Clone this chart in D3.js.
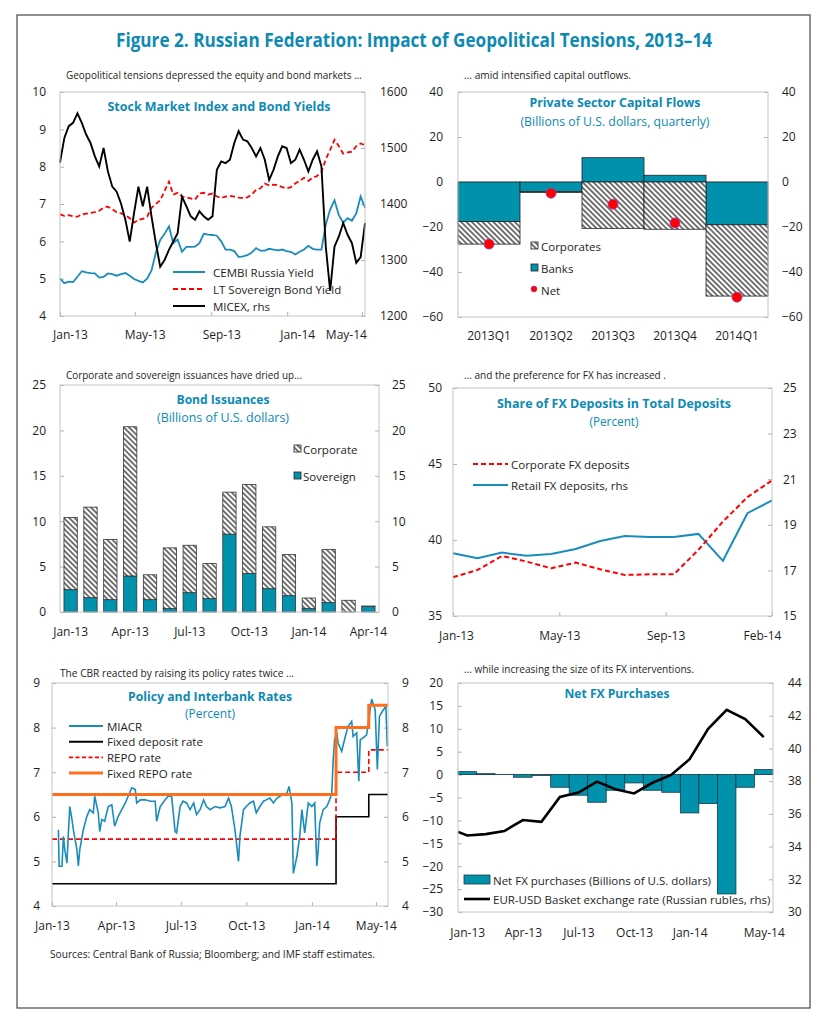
<!DOCTYPE html>
<html><head><meta charset="utf-8">
<script src="https://cdn.jsdelivr.net/npm/d3@7"></script>
<style>body{margin:0;background:#fff}</style>
</head><body><svg id="chart"></svg>
<script>
// ---------------- DATA ----------------
const mainTitle = "Figure 2. Russian Federation: Impact of Geopolitical Tensions, 2013–14";
const sourcesText = "Sources: Central Bank of Russia; Bloomberg; and  IMF staff estimates.";

// Panel 1: weekly from 1 Jan 2013
const p1Start = "2013-01-01";
const micex = [1474,1518,1539,1545,1562,1545,1524,1509,1485,1467,
 1500,1458,1431,1422,1401,1372,1333,1384,1431,1396,
 1431,1378,1330,1288,1300,1318,1333,1348,1413,1396,
 1378,1372,1387,1378,1372,1378,1461,1476,1473,1479,
 1509,1530,1515,1512,1500,1485,1500,1479,1443,1461,
 1485,1503,1500,1473,1479,1497,1479,1458,1479,1494,
 1467,1324,1245,1324,1342,1366,1345,1330,1295,1305,1366];
const cembi = [5.00,4.88,4.92,4.91,5.05,5.20,5.17,5.15,5.14,5.03,
 5.05,5.14,5.12,5.08,5.12,5.15,5.08,4.99,4.94,4.90,
 5.00,5.22,5.70,6.04,6.20,6.40,5.95,6.05,5.72,5.85,
 5.85,5.86,5.95,6.20,6.18,6.17,6.15,6.00,5.78,5.78,
 5.74,5.58,5.60,5.63,5.70,5.82,5.75,5.75,5.80,5.78,
 5.76,5.78,5.74,5.72,5.65,5.72,5.78,5.88,5.80,5.78,
 5.78,6.45,6.85,7.10,6.70,6.50,6.62,6.55,6.75,7.20,6.90];
const ltSov = [6.72,6.68,6.70,6.67,6.66,6.72,6.74,6.76,6.78,6.82,
 6.90,6.93,6.86,6.78,6.75,6.70,6.62,6.50,6.58,6.60,
 6.66,6.90,7.00,7.10,7.35,7.60,7.25,7.30,7.20,7.18,
 7.15,7.12,7.28,7.30,7.25,7.28,7.20,7.16,7.20,7.22,
 7.20,7.17,7.16,7.18,7.25,7.38,7.42,7.55,7.50,7.52,
 7.50,7.45,7.42,7.45,7.55,7.62,7.70,7.62,7.70,7.75,
 7.85,8.20,8.45,8.72,8.55,8.35,8.38,8.40,8.55,8.62,8.58];
const p1Ticks = ["2013-01-01","2013-05-01","2013-09-01","2014-01-01","2014-05-01"];
const p1Left = [4,5,6,7,8,9,10];
const p1Right = [1200,1300,1400,1500,1600];
const p1Legend = ["CEMBI Russia Yield","LT Sovereign Bond Yield","MICEX, rhs"];

// Panel 2
const quarters = ["2013Q1","2013Q2","2013Q3","2013Q4","2014Q1"];
const banks = [-17.6,-4.2,10.8,3.0,-19.0];
const corporates = [-10.0,-0.5,-20.6,-21.0,-31.7];
const netFlows = [-27.6,-5.0,-9.9,-18.2,-51.2];
const p2Ticks = [-60,-40,-20,0,20,40];

// Panel 3
const issueMonths = ["Jan-13","Feb-13","Mar-13","Apr-13","May-13","Jun-13","Jul-13","Aug-13","Sep-13","Oct-13","Nov-13","Dec-13","Jan-14","Feb-14","Mar-14","Apr-14"];
const sovereign = [2.46,1.58,1.36,3.97,1.36,0.37,2.13,1.47,8.57,4.23,2.57,1.80,0.37,1.03,0.0,0.60];
const corporate = [7.94,9.97,6.64,16.43,2.74,6.69,5.22,3.86,4.63,9.81,6.81,4.52,1.17,5.87,1.29,0.06];
const p3Labels = ["Jan-13","Apr-13","Jul-13","Oct-13","Jan-14","Apr-14"];
const p3Ticks = [0,5,10,15,20,25];

// Panel 4
const depMonths = ["Jan-13","Feb-13","Mar-13","Apr-13","May-13","Jun-13","Jul-13","Aug-13","Sep-13","Oct-13","Nov-13","Dec-13","Jan-14","Feb-14"];
const corpFX = [37.55,38.03,38.95,38.58,38.14,38.51,38.07,37.70,37.74,37.74,39.35,41.21,42.82,43.92];
const retailFX = [17.75,17.53,17.78,17.64,17.72,17.94,18.29,18.51,18.46,18.46,18.60,17.42,19.51,20.07];
const p4Labels = ["Jan-13","May-13","Sep-13","Feb-14"];
const p4Left = [35,40,45,50];
const p4Right = [15,17,19,21,23,25];

// Panel 5: [days since 1 Jan 2013, value]
const miacr = [[9,5.71],[10,4.89],[14,4.89],[16,5.56],[18,5.26],[21,4.96],[23,5.64],[25,6.23],[28,5.94],[30,5.71],
 [35,5.26],[37,4.90],[39,5.26],[44,5.71],[49,6.01],[53,6.16],[58,6.09],[60,6.46],[65,6.09],[67,5.67],
 [70,5.94],[74,5.90],[79,6.23],[84,6.27],[88,5.79],[93,6.01],[98,6.16],[103,6.31],[107,6.46],[112,6.65],
 [117,6.61],[119,6.31],[124,6.38],[131,6.38],[138,6.35],[145,6.35],[147,5.90],[152,6.23],[159,6.38],[163,6.46],
 [168,6.46],[173,5.67],[175,5.64],[180,6.23],[184,6.35],[189,6.31],[194,6.16],[199,6.31],[203,6.05],[208,6.16],
 [213,6.38],[217,6.23],[222,6.16],[229,6.23],[236,6.20],[243,6.23],[248,6.42],[252,6.23],[257,5.71],[262,5.00],
 [264,5.56],[269,6.16],[273,6.23],[278,6.31],[283,6.35],[287,6.09],[292,6.23],[297,6.35],[301,6.38],[306,6.42],
 [311,6.31],[316,6.42],[320,6.46],[325,6.50],[330,6.53],[333,6.68],[337,6.31],[339,4.73],[344,5.11],[348,5.56],
 [351,6.16],[355,5.64],[360,6.31],[365,6.23],[369,6.31],[372,4.90],[374,5.26],[376,5.86],[381,6.16],[386,6.23],
 [390,6.38],[393,6.53],[395,7.28],[397,7.73],[400,7.88],[402,7.65],[407,7.47],[412,7.80],[416,8.03],[421,8.14],
 [423,7.80],[428,7.88],[431,6.80],[433,7.73],[437,7.77],[442,7.84],[445,8.18],[449,8.64],[454,8.40],[457,7.06],
 [460,8.25],[464,8.36],[469,8.48],[471,7.58]];
const fixedRepo = [[0,6.5],[399,8.0],[445,8.5],[472,8.5]];
const repoRate = [[0,5.5],[399,7.0],[445,7.5],[472,7.5]];
const depositRate = [[0,4.5],[399,6.0],[445,6.5],[472,6.5]];
const p5TickDates = ["2013-01-01","2013-04-01","2013-07-01","2013-10-01","2014-01-01","2014-04-01"];
const p5TickLabels = ["Jan-13","Apr-13","Jul-13","Oct-13","Jan-14","May-14"];
const p5Ticks = [4,5,6,7,8,9];
const p5Legend = ["MIACR","Fixed deposit rate","REPO rate","Fixed REPO rate"];

// Panel 6
const fxMonths = ["Jan-13","Feb-13","Mar-13","Apr-13","May-13","Jun-13","Jul-13","Aug-13","Sep-13","Oct-13","Nov-13","Dec-13","Jan-14","Feb-14","Mar-14","Apr-14","May-14"];
const netFX = [0.65,0.2,0.05,-0.58,-0.2,-2.77,-4.5,-6.04,-3.42,-1.82,-3.42,-3.86,-8.37,-6.33,-26.06,-2.77,1.09];
const basketStart = 34.90;
const basket = [34.68,34.76,34.95,35.62,35.51,37.03,37.30,37.97,37.50,37.25,37.90,38.38,39.34,41.20,42.36,41.79,40.69];
const p6Labels = ["Jan-13","Apr-13","Jul-13","Oct-13","Jan-14","May-14"];
const p6Left = [-30,-25,-20,-15,-10,-5,0,5,10,15,20];
const p6Right = [30,32,34,36,38,40,42,44];

// ---------------- DRAW ----------------
const W = 828, H = 1024;
const FONT = '"Open Sans","Noto Sans",sans-serif';
const TITLE = "#0d8ab3", BAR = "#0092ad", LTEAL = "#1a8cba", RED = "#ff0000", ORANGE = "#ff6e1c", TXT = "#1e1e1e";
const intFmt = d3.format("d");
const svg = d3.select("#chart").attr("width", W).attr("height", H);
svg.append("rect").attr("width", W).attr("height", H).attr("fill", "#fff");
const defs = svg.append("defs");
function hatch(id, size) {
  const p = defs.append("pattern").attr("id", id).attr("patternUnits", "userSpaceOnUse")
    .attr("width", size).attr("height", size).attr("patternTransform", "rotate(-45)");
  p.append("rect").attr("width", size).attr("height", size).attr("fill", "#fff");
  p.append("line").attr("x1", size/2).attr("x2", size/2).attr("y1", 0).attr("y2", size)
    .attr("stroke", "#1a1a1a").attr("stroke-width", 1.2);
}
hatch("hatch", 3.8);

// outer frame
svg.append("rect").attr("x", 17).attr("y", 15).attr("width", 793).attr("height", 993)
  .attr("fill", "none").attr("stroke", "#555").attr("stroke-width", 1.3);

function fit(x, y, s, w, size, opts = {}) {
  return svg.append("text").attr("x", x).attr("y", y).text(s)
    .attr("font-family", FONT).attr("font-size", size)
    .attr("font-weight", opts.weight || "normal")
    .attr("fill", opts.color || TXT)
    .attr("text-anchor", opts.anchor || "start")
    .attr("textLength", w).attr("lengthAdjust", "spacingAndGlyphs");
}
function plain(g, x, y, s, size, anchor) {
  return g.append("text").attr("x", x).attr("y", y).text(s)
    .attr("font-family", FONT).attr("font-size", size || 11.5).attr("fill", TXT)
    .attr("text-anchor", anchor || "start").attr("dominant-baseline", "central");
}
function box(b) {
  svg.append("rect").attr("x", b.x0).attr("y", b.y0).attr("width", b.x1 - b.x0).attr("height", b.y1 - b.y0)
    .attr("fill", "none").attr("stroke", "#c4c4c4").attr("stroke-width", 1);
}
function styleAxis(g, showTicks) {
  g.select(".domain").remove();
  g.selectAll(".tick line").attr("stroke", showTicks ? "#b0b0b0" : "none");
  g.selectAll(".tick text").attr("font-family", FONT).attr("font-size", 12).attr("fill", TXT);
}

// main title
fit(414, 47, mainTitle, 596, 20, {weight: "bold", color: TITLE, anchor: "middle"});

// ===== Panel 1 =====
{
  const b = {x0: 60, x1: 365, y0: 92, y1: 316};
  const t0 = d3.timeParse("%Y-%m-%d")(p1Start);
  const dates = micex.map((_, i) => d3.timeDay.offset(t0, 7 * i));
  const x = d3.scaleTime().domain([t0, new Date(2014, 4, 6)]).range([b.x0, b.x1]);
  const yL = d3.scaleLinear().domain([4, 10]).range([b.y1, b.y0]);
  const yR = d3.scaleLinear().domain([1200, 1600]).range([b.y1, b.y0]);
  const g = svg.append("g");
  const gl = g.append("g").attr("transform", `translate(${b.x0},0)`).call(d3.axisLeft(yL).tickValues(p1Left).tickSize(-4).tickPadding(14).tickFormat(intFmt));
  styleAxis(gl, true);
  const gr = g.append("g").attr("transform", `translate(${b.x1},0)`).call(d3.axisRight(yR).tickValues(p1Right).tickSize(-4).tickPadding(15).tickFormat(intFmt));
  styleAxis(gr, true);
  const parse = d3.timeParse("%Y-%m-%d");
  const gb = g.append("g").attr("transform", `translate(0,${b.y1})`).call(d3.axisBottom(x).tickValues(p1Ticks.map(parse)).tickSize(-4).tickPadding(14).tickFormat(d3.timeFormat("%b-%y")));
  styleAxis(gb, true);
  gb.selectAll(".tick text").attr("dx", (d, i) => i === p1Ticks.length - 1 ? -16 : 10);
  box(b);
  const line = (ys, arr) => d3.line().x((d, i) => x(dates[i])).y(d => ys(d))(arr);
  g.append("path").attr("d", line(yL, ltSov)).attr("fill", "none").attr("stroke", RED).attr("stroke-width", 1.8).attr("stroke-dasharray", "5,3");
  g.append("path").attr("d", line(yL, cembi)).attr("fill", "none").attr("stroke", LTEAL).attr("stroke-width", 1.8);
  g.append("path").attr("d", line(yR, micex)).attr("fill", "none").attr("stroke", "#000").attr("stroke-width", 1.9);
  fit(219, 111, "Stock Market Index and Bond Yields", 223, 12.5, {weight: "bold", color: TITLE, anchor: "middle"});
  fit(66, 79, "Geopolitical tensions depressed the equity and bond markets ...", 296, 11);
  const styles = [{c: LTEAL, d: null}, {c: RED, d: "5,3"}, {c: "#000", d: null}];
  p1Legend.forEach((s, i) => {
    const yy = 272 + i * 17;
    g.append("line").attr("x1", 173).attr("x2", 205).attr("y1", yy).attr("y2", yy)
      .attr("stroke", styles[i].c).attr("stroke-width", 2).attr("stroke-dasharray", styles[i].d);
    plain(g, 213, yy, s, 11.5);
  });
}

// ===== Panel 2 =====
{
  const b = {x0: 458, x1: 768, y0: 92, y1: 317};
  const x = d3.scaleBand().domain(quarters).range([b.x0, b.x1]).padding(0);
  const y = d3.scaleLinear().domain([-60, 40]).range([b.y1, b.y0]);
  const g = svg.append("g");
  const gl = g.append("g").attr("transform", `translate(${b.x0},0)`).call(d3.axisLeft(y).tickValues(p2Ticks).tickSize(-4).tickPadding(15));
  styleAxis(gl, true);
  const gr = g.append("g").attr("transform", `translate(${b.x1},0)`).call(d3.axisRight(y).tickValues(p2Ticks).tickSize(-4).tickPadding(14));
  styleAxis(gr, true);
  const gb = g.append("g").attr("transform", `translate(0,${b.y1})`).call(d3.axisBottom(x).tickSize(0).tickPadding(14));
  styleAxis(gb, false);
  box(b);
  g.append("line").attr("x1", b.x0).attr("x2", b.x1).attr("y1", y(0)).attr("y2", y(0)).attr("stroke", "#bbb");
  const rows = quarters.map((q, i) => ({q, banks: banks[i], corporates: corporates[i]}));
  const series = d3.stack().keys(["banks", "corporates"]).offset(d3.stackOffsetDiverging)(rows);
  series.forEach(s => {
    g.append("g").selectAll("rect").data(s).join("rect")
      .attr("x", d => x(d.data.q)).attr("width", x.bandwidth())
      .attr("y", d => y(Math.max(d[0], d[1]))).attr("height", d => Math.abs(y(d[0]) - y(d[1])))
      .attr("fill", s.key === "banks" ? BAR : "url(#hatch)").attr("stroke", "#222").attr("stroke-width", 0.8);
  });
  g.selectAll("circle.net").data(netFlows).join("circle").attr("class", "net")
    .attr("cx", (d, i) => x(quarters[i]) + x.bandwidth() / 2).attr("cy", d => y(d)).attr("r", 5)
    .attr("fill", RED).attr("stroke", "#a040b0").attr("stroke-width", 0.8);
  fit(615, 107, "Private Sector Capital Flows", 171, 12.5, {weight: "bold", color: TITLE, anchor: "middle"});
  fit(615, 126, "(Billions of U.S. dollars, quarterly)", 189, 12.5, {color: TITLE, anchor: "middle"});
  fit(464, 79, "... amid intensified capital outflows.", 167, 11);
  // legend
  g.append("rect").attr("x", 531).attr("y", 242).attr("width", 7).attr("height", 7).attr("fill", "url(#hatch)").attr("stroke", "#222").attr("stroke-width", 0.8);
  plain(g, 541, 246, "Corporates", 11.5);
  g.append("rect").attr("x", 531).attr("y", 264).attr("width", 7).attr("height", 7).attr("fill", BAR).attr("stroke", "#222").attr("stroke-width", 0.8);
  plain(g, 541, 268, "Banks", 11.5);
  g.append("circle").attr("cx", 534).attr("cy", 289).attr("r", 3).attr("fill", RED).attr("stroke", "#a040b0").attr("stroke-width", 0.6);
  plain(g, 541, 290, "Net", 11.5);
}

// ===== Panel 3 =====
{
  const b = {x0: 60, x1: 379, y0: 385, y1: 612};
  const x = d3.scaleBand().domain(issueMonths).range([b.x0, b.x1]).paddingInner(0.33).paddingOuter(0.2);
  const y = d3.scaleLinear().domain([0, 25]).range([b.y1, b.y0]);
  const g = svg.append("g");
  const gl = g.append("g").attr("transform", `translate(${b.x0},0)`).call(d3.axisLeft(y).tickValues(p3Ticks).tickSize(-4).tickPadding(14));
  styleAxis(gl, true);
  const gr = g.append("g").attr("transform", `translate(${b.x1},0)`).call(d3.axisRight(y).tickValues(p3Ticks).tickSize(-4).tickPadding(13));
  styleAxis(gr, true);
  const gb = g.append("g").attr("transform", `translate(0,${b.y1})`).call(d3.axisBottom(x).tickValues(p3Labels).tickSize(0).tickPadding(15));
  styleAxis(gb, false);
  box(b);
  const rows = issueMonths.map((m, i) => ({m, sovereign: sovereign[i], corporate: corporate[i]}));
  const series = d3.stack().keys(["sovereign", "corporate"])(rows);
  series.forEach(s => {
    g.append("g").selectAll("rect").data(s.filter(d => d[1] - d[0] > 0)).join("rect")
      .attr("x", d => x(d.data.m)).attr("width", x.bandwidth())
      .attr("y", d => y(d[1])).attr("height", d => y(d[0]) - y(d[1]))
      .attr("fill", s.key === "sovereign" ? BAR : "url(#hatch)").attr("stroke", "#333").attr("stroke-width", 0.8);
  });
  fit(223, 404, "Bond Issuances", 93, 12.5, {weight: "bold", color: TITLE, anchor: "middle"});
  fit(223, 422, "(Billions of U.S. dollars)", 132, 12.5, {color: TITLE, anchor: "middle"});
  fit(66, 379, "Corporate and sovereign issuances have dried up...", 236, 11);
  g.append("rect").attr("x", 294).attr("y", 445).attr("width", 7).attr("height", 7).attr("fill", "url(#hatch)").attr("stroke", "#222").attr("stroke-width", 0.8);
  plain(g, 303, 449, "Corporate", 11.5);
  g.append("rect").attr("x", 294).attr("y", 472).attr("width", 7).attr("height", 7).attr("fill", BAR).attr("stroke", "#222").attr("stroke-width", 0.8);
  plain(g, 303, 476, "Sovereign", 11.5);
}

// ===== Panel 4 =====
{
  const b = {x0: 453, x1: 772, y0: 388, y1: 616};
  const n = depMonths.length - 1;
  const x = d3.scaleLinear().domain([0, n]).range([b.x0, b.x1]);
  const yL = d3.scaleLinear().domain([35, 50]).range([b.y1, b.y0]);
  const yR = d3.scaleLinear().domain([15, 25]).range([b.y1, b.y0]);
  const g = svg.append("g");
  const gl = g.append("g").attr("transform", `translate(${b.x0},0)`).call(d3.axisLeft(yL).tickValues(p4Left).tickSize(-4).tickPadding(11));
  styleAxis(gl, true);
  const gr = g.append("g").attr("transform", `translate(${b.x1},0)`).call(d3.axisRight(yR).tickValues(p4Right).tickSize(-4).tickPadding(11));
  styleAxis(gr, true);
  const tickIdx = p4Labels.map((_, i) => i * n / (p4Labels.length - 1));
  const gb = g.append("g").attr("transform", `translate(0,${b.y1})`).call(d3.axisBottom(x).tickValues(tickIdx).tickSize(-4).tickPadding(15).tickFormat((d, i) => p4Labels[i]));
  styleAxis(gb, true);
  gb.selectAll(".tick text").attr("dx", (d, i) => i === 0 ? 3 : (i === p4Labels.length - 1 ? -10 : 0));
  box(b);
  g.append("path").attr("d", d3.line().x((d, i) => x(i)).y(d => yR(d))(retailFX)).attr("fill", "none").attr("stroke", LTEAL).attr("stroke-width", 2);
  g.append("path").attr("d", d3.line().x((d, i) => x(i)).y(d => yL(d))(corpFX)).attr("fill", "none").attr("stroke", RED).attr("stroke-width", 2).attr("stroke-dasharray", "5,3");
  fit(614, 408, "Share of FX Deposits in Total Deposits", 234, 12.5, {weight: "bold", color: TITLE, anchor: "middle"});
  fit(614, 426, "(Percent)", 49, 12.5, {color: TITLE, anchor: "middle"});
  fit(464, 379, "... and the preference for FX has increased .", 202, 11);
  g.append("line").attr("x1", 473).attr("x2", 508).attr("y1", 464).attr("y2", 464).attr("stroke", RED).attr("stroke-width", 2).attr("stroke-dasharray", "5,3");
  plain(g, 511, 464, "Corporate FX deposits", 11.5);
  g.append("line").attr("x1", 473).attr("x2", 508).attr("y1", 485).attr("y2", 485).attr("stroke", LTEAL).attr("stroke-width", 2);
  plain(g, 511, 485, "Retail FX deposits, rhs", 11.5);
}

// ===== Panel 5 =====
{
  const b = {x0: 52, x1: 388, y0: 683, y1: 906};
  const t0 = new Date(2013, 0, 1);
  const dt = d => d3.timeDay.offset(t0, d);
  const x = d3.scaleTime().domain([t0, dt(472)]).range([b.x0, b.x1]);
  const y = d3.scaleLinear().domain([4, 9]).range([b.y1, b.y0]);
  const g = svg.append("g");
  const gl = g.append("g").attr("transform", `translate(${b.x0},0)`).call(d3.axisLeft(y).tickValues(p5Ticks).tickSize(-4).tickPadding(12).tickFormat(intFmt));
  styleAxis(gl, true);
  const gr = g.append("g").attr("transform", `translate(${b.x1},0)`).call(d3.axisRight(y).tickValues(p5Ticks).tickSize(-4).tickPadding(14).tickFormat(intFmt));
  styleAxis(gr, true);
  const parse = d3.timeParse("%Y-%m-%d");
  const gb = g.append("g").attr("transform", `translate(0,${b.y1})`).call(d3.axisBottom(x).tickValues(p5TickDates.map(parse)).tickSize(-4).tickPadding(15).tickFormat((d, i) => p5TickLabels[i]));
  styleAxis(gb, true);
  box(b);
  const step = d3.line().x(d => x(dt(d[0]))).y(d => y(d[1])).curve(d3.curveStepAfter);
  g.append("path").attr("d", step(depositRate)).attr("fill", "none").attr("stroke", "#000").attr("stroke-width", 1.6);
  g.append("path").attr("d", step(repoRate)).attr("fill", "none").attr("stroke", RED).attr("stroke-width", 1.6).attr("stroke-dasharray", "5,3");
  g.append("path").attr("d", d3.line().x(d => x(dt(d[0]))).y(d => y(d[1]))(miacr)).attr("fill", "none").attr("stroke", LTEAL).attr("stroke-width", 1.6);
  g.append("path").attr("d", step(fixedRepo)).attr("fill", "none").attr("stroke", ORANGE).attr("stroke-width", 3);
  fit(210, 701, "Policy and Interbank  Rates", 164, 12.5, {weight: "bold", color: TITLE, anchor: "middle"});
  fit(210, 718, "(Percent)", 50, 12.5, {color: TITLE, anchor: "middle"});
  fit(60, 677, "The CBR reacted by raising its policy rates twice  ...", 234, 11);
  const ls = [{c: LTEAL, w: 2, d: null}, {c: "#000", w: 2, d: null}, {c: RED, w: 1.6, d: "4,2.5"}, {c: ORANGE, w: 3, d: null}];
  p5Legend.forEach((s, i) => {
    const yy = 726 + i * 15.7;
    g.append("line").attr("x1", 69).attr("x2", 103).attr("y1", yy).attr("y2", yy)
      .attr("stroke", ls[i].c).attr("stroke-width", ls[i].w).attr("stroke-dasharray", ls[i].d);
    plain(g, 107, yy, s, 11.5);
  });
}

// ===== Panel 6 =====
{
  const b = {x0: 458, x1: 773, y0: 683, y1: 912};
  const n = fxMonths.length;
  const x = d3.scaleLinear().domain([-0.5, n - 0.5]).range([b.x0, b.x1]);
  const yL = d3.scaleLinear().domain([-30, 20]).range([b.y1, b.y0]);
  const yR = d3.scaleLinear().domain([30, 44]).range([b.y1, b.y0]);
  const g = svg.append("g");
  const gl = g.append("g").attr("transform", `translate(${b.x0},0)`).call(d3.axisLeft(yL).tickValues(p6Left).tickSize(-4).tickPadding(15));
  styleAxis(gl, true);
  const gr = g.append("g").attr("transform", `translate(${b.x1},0)`).call(d3.axisRight(yR).tickValues(p6Right).tickSize(-4).tickPadding(15));
  styleAxis(gr, true);
  const labIdx = p6Labels.map(l => fxMonths.indexOf(l));
  const gb = g.append("g").attr("transform", `translate(0,${b.y1})`).call(d3.axisBottom(x).tickValues(labIdx).tickSize(0).tickPadding(16).tickFormat((d, i) => p6Labels[i]));
  styleAxis(gb, false);
  box(b);
  g.append("line").attr("x1", b.x0).attr("x2", b.x1).attr("y1", yL(0)).attr("y2", yL(0)).attr("stroke", "#bbb");
  g.selectAll("rect.fx").data(netFX).join("rect").attr("class", "fx")
    .attr("x", (d, i) => x(i - 0.5)).attr("width", x(1) - x(0))
    .attr("y", d => yL(Math.max(0, d))).attr("height", d => Math.abs(yL(d) - yL(0)))
    .attr("fill", BAR).attr("stroke", "#1a3a44").attr("stroke-width", 0.8);
  const pts = [[-0.5, basketStart]].concat(basket.map((v, i) => [i, v]));
  g.append("path").attr("d", d3.line().x(d => x(d[0])).y(d => yR(d[1]))(pts)).attr("fill", "none").attr("stroke", "#000").attr("stroke-width", 2.6);
  fit(617, 698, "Net FX Purchases", 105, 12.5, {weight: "bold", color: TITLE, anchor: "middle"});
  fit(464, 673, "... while increasing the size of its FX interventions.", 230, 11);
  g.append("rect").attr("x", 464).attr("y", 875).attr("width", 26).attr("height", 9).attr("fill", BAR).attr("stroke", "#1a3a44").attr("stroke-width", 0.8);
  plain(g, 493, 880, "Net FX purchases (Billions of U.S. dollars)", 11.5);
  g.append("line").attr("x1", 464).attr("x2", 490).attr("y1", 899).attr("y2", 899).attr("stroke", "#000").attr("stroke-width", 2.6);
  plain(g, 493, 899, "EUR-USD Basket exchange rate (Russian rubles, rhs)", 11.5);
}

// sources
fit(50, 958, sourcesText, 325, 11);
</script></body></html>
